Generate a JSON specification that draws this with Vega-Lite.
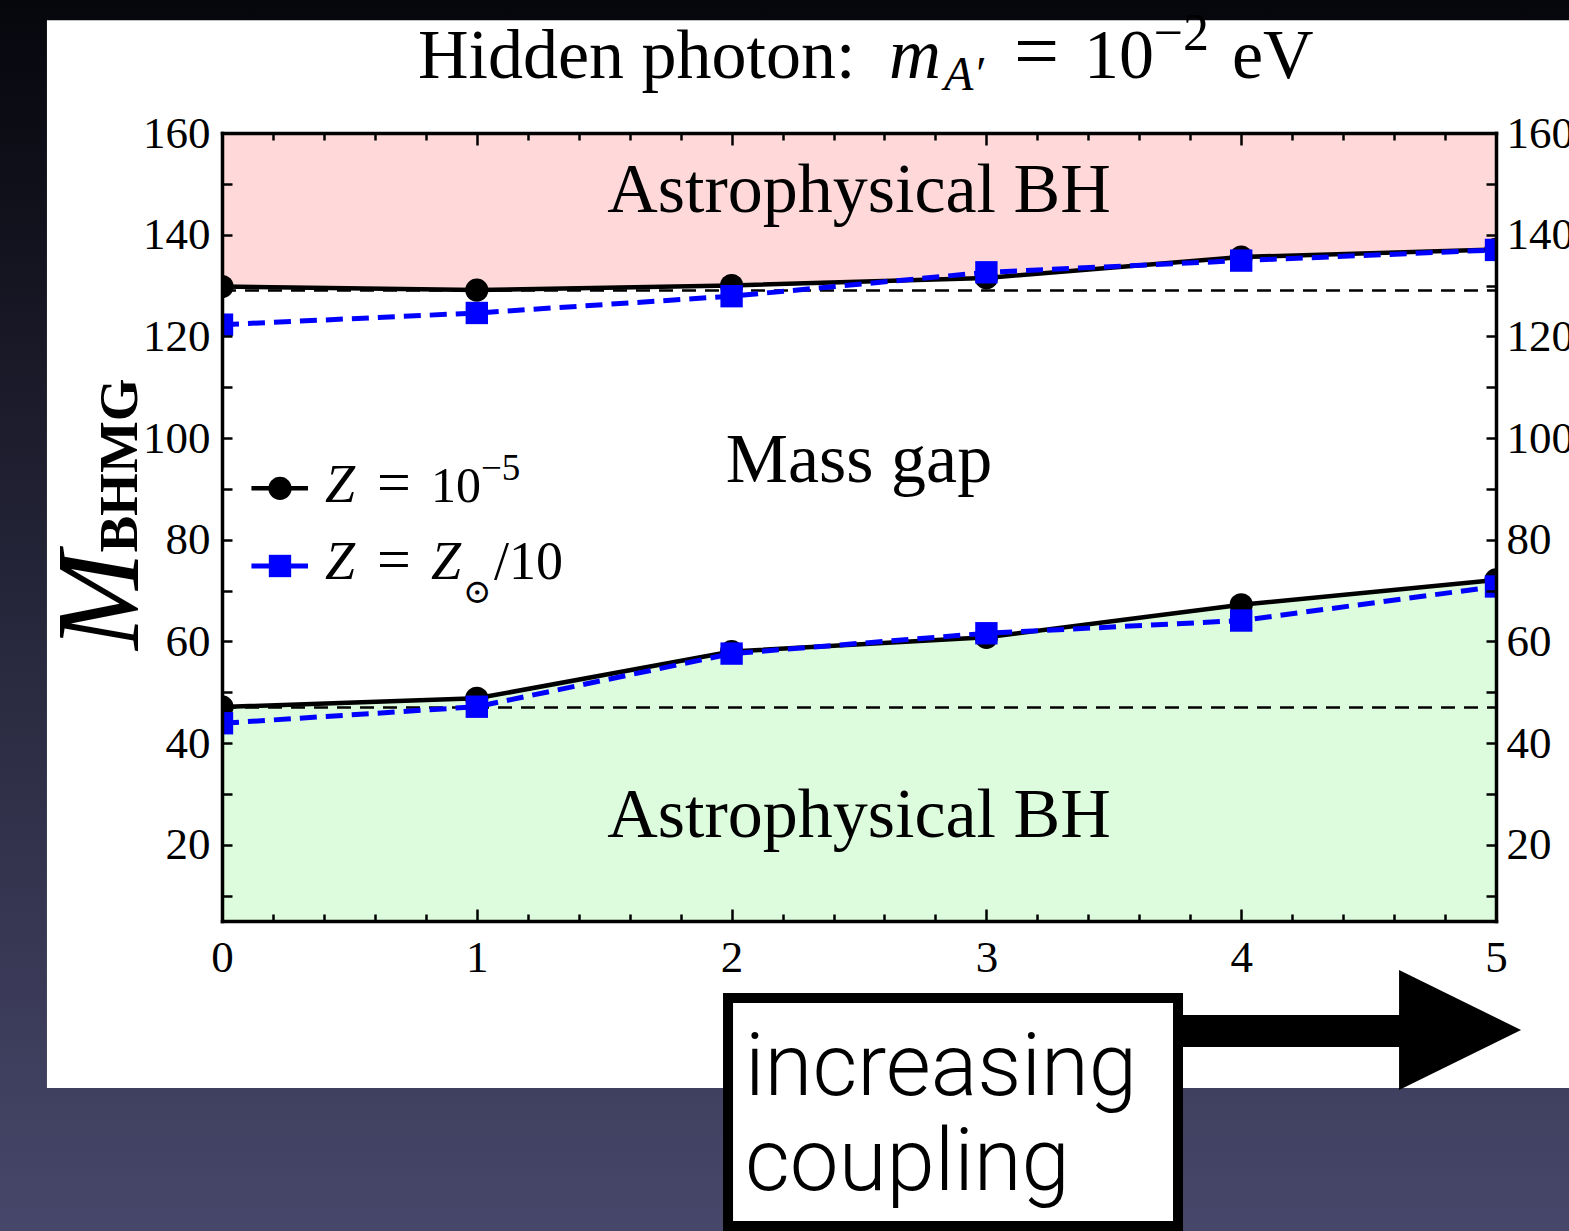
{
  "$schema": "https://vega.github.io/schema/vega-lite/v6.json",
  "width": 1274,
  "height": 788,
  "autosize": {"type": "none"},
  "padding": {"left": 222, "top": 133, "right": 73, "bottom": 310},
  "background": "#1c1c2c",
  "data": {"values": [{}]},
  "datasets": {
    "curves": [
      {"coupling": 0, "mass": 129.8, "series": "Z1e-5", "bound": "upper"},
      {"coupling": 1, "mass": 129.1, "series": "Z1e-5", "bound": "upper"},
      {"coupling": 2, "mass": 130.0, "series": "Z1e-5", "bound": "upper"},
      {"coupling": 3, "mass": 131.5, "series": "Z1e-5", "bound": "upper"},
      {"coupling": 4, "mass": 135.6, "series": "Z1e-5", "bound": "upper"},
      {"coupling": 5, "mass": 137.1, "series": "Z1e-5", "bound": "upper"},
      {"coupling": 0, "mass": 47.1, "series": "Z1e-5", "bound": "lower"},
      {"coupling": 1, "mass": 48.8, "series": "Z1e-5", "bound": "lower"},
      {"coupling": 2, "mass": 58.0, "series": "Z1e-5", "bound": "lower"},
      {"coupling": 3, "mass": 60.8, "series": "Z1e-5", "bound": "lower"},
      {"coupling": 4, "mass": 67.2, "series": "Z1e-5", "bound": "lower"},
      {"coupling": 5, "mass": 72.1, "series": "Z1e-5", "bound": "lower"},
      {"coupling": 0, "mass": 122.3, "series": "Zsun/10", "bound": "upper"},
      {"coupling": 1, "mass": 124.6, "series": "Zsun/10", "bound": "upper"},
      {"coupling": 2, "mass": 127.9, "series": "Zsun/10", "bound": "upper"},
      {"coupling": 3, "mass": 132.6, "series": "Zsun/10", "bound": "upper"},
      {"coupling": 4, "mass": 134.9, "series": "Zsun/10", "bound": "upper"},
      {"coupling": 5, "mass": 137.0, "series": "Zsun/10", "bound": "upper"},
      {"coupling": 0, "mass": 43.9, "series": "Zsun/10", "bound": "lower"},
      {"coupling": 1, "mass": 47.15, "series": "Zsun/10", "bound": "lower"},
      {"coupling": 2, "mass": 57.6, "series": "Zsun/10", "bound": "lower"},
      {"coupling": 3, "mass": 61.6, "series": "Zsun/10", "bound": "lower"},
      {"coupling": 4, "mass": 64.1, "series": "Zsun/10", "bound": "lower"},
      {"coupling": 5, "mass": 70.8, "series": "Zsun/10", "bound": "lower"}
    ],
    "refs": [{"level": 129.0}, {"level": 47.0}]
  },
  "config": {
    "view": {"stroke": null},
    "axis": {
      "grid": false, "domain": false, "tickColor": "black", "tickWidth": 2.5,
      "labelFont": "Liberation Serif", "labelFontSize": 45, "labelColor": "black",
      "labelOverlap": false, "labelFlush": false, "labelBound": false,
      "domainColor": "black", "domainWidth": 3.5, "domainCap": "square"
    }
  },
  "resolve": {"axis": {"x": "independent", "y": "independent"}},
  "layer": [
    {
      "mark": {"type": "rect", "color": {"gradient": "linear", "x1": 0, "y1": 0, "x2": 0, "y2": 1, "stops": [{"offset": 0, "color": "#05050b"}, {"offset": 1, "color": "#48486c"}]}},
      "encoding": {
        "x": {"datum": -1, "type": "quantitative", "scale": {"domain": [0, 5], "nice": false, "zero": false}, "axis": null},
        "x2": {"datum": 5.5},
        "y": {"datum": 190, "type": "quantitative", "scale": {"domain": [5, 160], "nice": false, "zero": false}, "axis": null},
        "y2": {"datum": -60}
      }
    },
    {
      "mark": {"type": "rect", "color": "white"},
      "encoding": {
        "x": {"datum": -0.687, "type": "quantitative", "scale": {"domain": [0, 5], "nice": false, "zero": false}, "axis": null},
        "x2": {"datum": 5.5},
        "y": {"datum": 182.2, "type": "quantitative", "scale": {"domain": [5, 160], "nice": false, "zero": false}, "axis": null},
        "y2": {"datum": -27.85}
      }
    },
    {
      "data": {"name": "curves"},
      "transform": [{"filter": "datum.series === 'Z1e-5' && datum.bound === 'upper'"}],
      "mark": {"type": "area", "color": "#ffd9d9"},
      "encoding": {
        "x": {"field": "coupling", "type": "quantitative", "scale": {"domain": [0, 5], "nice": false, "zero": false}, "title": null,
              "axis": {"orient": "bottom", "zindex": 1, "values": [0, 1, 2, 3, 4, 5], "tickSize": -12, "labelPadding": 26, "domain": true}},
        "y": {"field": "mass", "type": "quantitative", "scale": {"domain": [5, 160], "nice": false, "zero": false}, "title": null,
              "axis": {"orient": "left", "zindex": 1, "values": [10, 20, 30, 40, 50, 60, 70, 80, 90, 100, 110, 120, 130, 140, 150, 160], "labelExpr": "datum.value % 20 === 0 ? datum.label : ''", "tickSize": -10, "labelPadding": 22, "domain": true}},
        "y2": {"datum": 160}
      }
    },
    {
      "data": {"name": "curves"},
      "transform": [{"filter": "datum.series === 'Z1e-5' && datum.bound === 'lower'"}],
      "mark": {"type": "area", "color": "#ddfcdd"},
      "encoding": {
        "x": {"field": "coupling", "type": "quantitative", "scale": {"domain": [0, 5], "nice": false, "zero": false}, "title": null,
              "axis": {"orient": "top", "zindex": 1, "values": [0, 1, 2, 3, 4, 5], "tickSize": -12, "labels": false, "domain": true}},
        "y": {"field": "mass", "type": "quantitative", "scale": {"domain": [5, 160], "nice": false, "zero": false}, "title": null,
              "axis": {"orient": "right", "zindex": 1, "values": [10, 20, 30, 40, 50, 60, 70, 80, 90, 100, 110, 120, 130, 140, 150, 160], "labelExpr": "datum.value % 20 === 0 ? datum.label : ''", "tickSize": -10, "labelPadding": 20, "domain": true}},
        "y2": {"datum": 5}
      }
    },
    {
      "data": {"name": "refs"},
      "mark": {"type": "rule", "color": "black", "strokeWidth": 2.5, "strokeDash": [14, 9]},
      "encoding": {
        "x": {"datum": 0, "type": "quantitative", "scale": {"domain": [0, 5], "nice": false, "zero": false}, "title": null,
              "axis": {"orient": "bottom", "zindex": 1, "values": [0.2, 0.4, 0.6, 0.8, 1.2, 1.4, 1.6, 1.8, 2.2, 2.4, 2.6, 2.8, 3.2, 3.4, 3.6, 3.8, 4.2, 4.4, 4.6, 4.8], "tickSize": -7, "labels": false}},
        "x2": {"datum": 5},
        "y": {"field": "level", "type": "quantitative", "scale": {"domain": [5, 160], "nice": false, "zero": false}, "axis": null}
      }
    },
    {
      "data": {"name": "curves"},
      "transform": [{"filter": "datum.series === 'Z1e-5'"}],
      "mark": {"type": "line", "color": "black", "strokeWidth": 4.5, "clip": true},
      "encoding": {
        "x": {"field": "coupling", "type": "quantitative", "scale": {"domain": [0, 5], "nice": false, "zero": false}, "title": null,
              "axis": {"orient": "top", "zindex": 1, "values": [0.2, 0.4, 0.6, 0.8, 1.2, 1.4, 1.6, 1.8, 2.2, 2.4, 2.6, 2.8, 3.2, 3.4, 3.6, 3.8, 4.2, 4.4, 4.6, 4.8], "tickSize": -7, "labels": false}},
        "y": {"field": "mass", "type": "quantitative", "scale": {"domain": [5, 160], "nice": false, "zero": false}, "axis": null},
        "detail": {"field": "bound"}
      }
    },
    {
      "data": {"name": "curves"},
      "transform": [{"filter": "datum.series === 'Z1e-5'"}],
      "mark": {"type": "point", "shape": "circle", "filled": true, "size": 540, "color": "black", "opacity": 1, "clip": true},
      "encoding": {
        "x": {"field": "coupling", "type": "quantitative", "scale": {"domain": [0, 5], "nice": false, "zero": false}, "axis": null},
        "y": {"field": "mass", "type": "quantitative", "scale": {"domain": [5, 160], "nice": false, "zero": false}, "axis": null}
      }
    },
    {
      "data": {"name": "curves"},
      "transform": [{"filter": "datum.series === 'Zsun/10'"}],
      "mark": {"type": "line", "color": "#0000ff", "strokeWidth": 5, "strokeDash": [17, 9], "clip": true},
      "encoding": {
        "x": {"field": "coupling", "type": "quantitative", "scale": {"domain": [0, 5], "nice": false, "zero": false}, "axis": null},
        "y": {"field": "mass", "type": "quantitative", "scale": {"domain": [5, 160], "nice": false, "zero": false}, "axis": null},
        "detail": {"field": "bound"}
      }
    },
    {
      "data": {"name": "curves"},
      "transform": [{"filter": "datum.series === 'Zsun/10'"}],
      "mark": {"type": "point", "shape": "square", "filled": true, "size": 500, "color": "#0000ff", "opacity": 1, "clip": true},
      "encoding": {
        "x": {"field": "coupling", "type": "quantitative", "scale": {"domain": [0, 5], "nice": false, "zero": false}, "axis": null},
        "y": {"field": "mass", "type": "quantitative", "scale": {"domain": [5, 160], "nice": false, "zero": false}, "axis": null}
      }
    },
    {
      "mark": {"type": "text", "text": "Astrophysical BH", "font": "Liberation Serif", "fontSize": 70, "align": "center", "baseline": "alphabetic", "color": "black"},
      "encoding": {
        "x": {"datum": 2.5, "type": "quantitative", "scale": {"domain": [0, 5], "nice": false, "zero": false}, "axis": null},
        "y": {"datum": 144.52, "type": "quantitative", "scale": {"domain": [5, 160], "nice": false, "zero": false}, "axis": null}
      }
    },
    {
      "mark": {"type": "text", "text": "Astrophysical BH", "font": "Liberation Serif", "fontSize": 70, "align": "center", "baseline": "alphabetic", "color": "black"},
      "encoding": {
        "x": {"datum": 2.5, "type": "quantitative", "scale": {"domain": [0, 5], "nice": false, "zero": false}, "axis": null},
        "y": {"datum": 21.52, "type": "quantitative", "scale": {"domain": [5, 160], "nice": false, "zero": false}, "axis": null}
      }
    },
    {
      "mark": {"type": "text", "text": "Mass gap", "font": "Liberation Serif", "fontSize": 70, "align": "center", "baseline": "alphabetic", "color": "black"},
      "encoding": {
        "x": {"datum": 2.5, "type": "quantitative", "scale": {"domain": [0, 5], "nice": false, "zero": false}, "axis": null},
        "y": {"datum": 91.35, "type": "quantitative", "scale": {"domain": [5, 160], "nice": false, "zero": false}, "axis": null}
      }
    },
    {
      "mark": {"type": "text", "text": "Hidden photon:", "font": "Liberation Serif", "fontSize": 70, "align": "left", "baseline": "alphabetic", "color": "black"},
      "encoding": {
        "x": {"datum": 0.7692, "type": "quantitative", "scale": {"domain": [0, 5], "nice": false, "zero": false}, "axis": null},
        "y": {"datum": 170.82, "type": "quantitative", "scale": {"domain": [5, 160], "nice": false, "zero": false}, "axis": null}
      }
    },
    {
      "mark": {"type": "text", "text": "m", "font": "Liberation Serif", "fontStyle": "italic", "fontSize": 72, "align": "left", "baseline": "alphabetic", "color": "black"},
      "encoding": {
        "x": {"datum": 2.6177, "type": "quantitative", "scale": {"domain": [0, 5], "nice": false, "zero": false}, "axis": null},
        "y": {"datum": 170.82, "type": "quantitative", "scale": {"domain": [5, 160], "nice": false, "zero": false}, "axis": null}
      }
    },
    {
      "mark": {"type": "text", "text": "A′", "font": "Liberation Serif", "fontStyle": "italic", "fontSize": 48, "align": "left", "baseline": "alphabetic", "color": "black"},
      "encoding": {
        "x": {"datum": 2.8336, "type": "quantitative", "scale": {"domain": [0, 5], "nice": false, "zero": false}, "axis": null},
        "y": {"datum": 168.46, "type": "quantitative", "scale": {"domain": [5, 160], "nice": false, "zero": false}, "axis": null}
      }
    },
    {
      "mark": {"type": "text", "text": "=", "font": "Liberation Serif", "fontSize": 80, "align": "left", "baseline": "alphabetic", "color": "black"},
      "encoding": {
        "x": {"datum": 3.1083, "type": "quantitative", "scale": {"domain": [0, 5], "nice": false, "zero": false}, "axis": null},
        "y": {"datum": 170.82, "type": "quantitative", "scale": {"domain": [5, 160], "nice": false, "zero": false}, "axis": null}
      }
    },
    {
      "mark": {"type": "text", "text": "10", "font": "Liberation Serif", "fontSize": 70, "align": "left", "baseline": "alphabetic", "color": "black"},
      "encoding": {
        "x": {"datum": 3.383, "type": "quantitative", "scale": {"domain": [0, 5], "nice": false, "zero": false}, "axis": null},
        "y": {"datum": 170.82, "type": "quantitative", "scale": {"domain": [5, 160], "nice": false, "zero": false}, "axis": null}
      }
    },
    {
      "mark": {"type": "text", "text": "−2", "font": "Liberation Serif", "fontSize": 52, "align": "left", "baseline": "alphabetic", "color": "black"},
      "encoding": {
        "x": {"datum": 3.656, "type": "quantitative", "scale": {"domain": [0, 5], "nice": false, "zero": false}, "axis": null},
        "y": {"datum": 176.33, "type": "quantitative", "scale": {"domain": [5, 160], "nice": false, "zero": false}, "axis": null}
      }
    },
    {
      "mark": {"type": "text", "text": "eV", "font": "Liberation Serif", "fontSize": 70, "align": "left", "baseline": "alphabetic", "color": "black"},
      "encoding": {
        "x": {"datum": 3.9639, "type": "quantitative", "scale": {"domain": [0, 5], "nice": false, "zero": false}, "axis": null},
        "y": {"datum": 170.82, "type": "quantitative", "scale": {"domain": [5, 160], "nice": false, "zero": false}, "axis": null}
      }
    },
    {
      "mark": {"type": "text", "text": "M", "font": "Liberation Serif", "fontStyle": "italic", "fontSize": 118, "angle": 270, "align": "center", "baseline": "alphabetic", "color": "black"},
      "encoding": {
        "x": {"datum": -0.33, "type": "quantitative", "scale": {"domain": [0, 5], "nice": false, "zero": false}, "axis": null},
        "y": {"datum": 68.0, "type": "quantitative", "scale": {"domain": [5, 160], "nice": false, "zero": false}, "axis": null}
      }
    },
    {
      "mark": {"type": "text", "text": "BHMG", "font": "Liberation Serif", "fontWeight": "bold", "fontSize": 55, "angle": 270, "align": "center", "baseline": "alphabetic", "color": "black"},
      "encoding": {
        "x": {"datum": -0.332, "type": "quantitative", "scale": {"domain": [0, 5], "nice": false, "zero": false}, "axis": null},
        "y": {"datum": 94.6, "type": "quantitative", "scale": {"domain": [5, 160], "nice": false, "zero": false}, "axis": null}
      }
    },
    {
      "mark": {"type": "rule", "color": "black", "strokeWidth": 4.5},
      "encoding": {
        "x": {"datum": 0.1155, "type": "quantitative", "scale": {"domain": [0, 5], "nice": false, "zero": false}, "axis": null},
        "x2": {"datum": 0.3375},
        "y": {"datum": 90.1, "type": "quantitative", "scale": {"domain": [5, 160], "nice": false, "zero": false}, "axis": null}
      }
    },
    {
      "mark": {"type": "point", "shape": "circle", "filled": true, "size": 540, "color": "black", "opacity": 1},
      "encoding": {
        "x": {"datum": 0.2276, "type": "quantitative", "scale": {"domain": [0, 5], "nice": false, "zero": false}, "axis": null},
        "y": {"datum": 90.1, "type": "quantitative", "scale": {"domain": [5, 160], "nice": false, "zero": false}, "axis": null}
      }
    },
    {
      "mark": {"type": "rule", "color": "#0000ff", "strokeWidth": 5},
      "encoding": {
        "x": {"datum": 0.1155, "type": "quantitative", "scale": {"domain": [0, 5], "nice": false, "zero": false}, "axis": null},
        "x2": {"datum": 0.3375},
        "y": {"datum": 74.83, "type": "quantitative", "scale": {"domain": [5, 160], "nice": false, "zero": false}, "axis": null}
      }
    },
    {
      "mark": {"type": "point", "shape": "square", "filled": true, "size": 500, "color": "#0000ff", "opacity": 1},
      "encoding": {
        "x": {"datum": 0.2276, "type": "quantitative", "scale": {"domain": [0, 5], "nice": false, "zero": false}, "axis": null},
        "y": {"datum": 74.83, "type": "quantitative", "scale": {"domain": [5, 160], "nice": false, "zero": false}, "axis": null}
      }
    },
    {
      "mark": {"type": "text", "text": "Z", "font": "Liberation Serif", "fontStyle": "italic", "fontSize": 54, "align": "left", "baseline": "alphabetic", "color": "black"},
      "encoding": {
        "x": {"datum": 0.4042, "type": "quantitative", "scale": {"domain": [0, 5], "nice": false, "zero": false}, "axis": null},
        "y": {"datum": 87.48, "type": "quantitative", "scale": {"domain": [5, 160], "nice": false, "zero": false}, "axis": null}
      }
    },
    {
      "mark": {"type": "text", "text": "=", "font": "Liberation Serif", "fontSize": 60, "align": "left", "baseline": "alphabetic", "color": "black"},
      "encoding": {
        "x": {"datum": 0.6083, "type": "quantitative", "scale": {"domain": [0, 5], "nice": false, "zero": false}, "axis": null},
        "y": {"datum": 87.48, "type": "quantitative", "scale": {"domain": [5, 160], "nice": false, "zero": false}, "axis": null}
      }
    },
    {
      "mark": {"type": "text", "text": "10", "font": "Liberation Serif", "fontSize": 50, "align": "left", "baseline": "alphabetic", "color": "black"},
      "encoding": {
        "x": {"datum": 0.8203, "type": "quantitative", "scale": {"domain": [0, 5], "nice": false, "zero": false}, "axis": null},
        "y": {"datum": 87.48, "type": "quantitative", "scale": {"domain": [5, 160], "nice": false, "zero": false}, "axis": null}
      }
    },
    {
      "mark": {"type": "text", "text": "−5", "font": "Liberation Serif", "fontSize": 37, "align": "left", "baseline": "alphabetic", "color": "black"},
      "encoding": {
        "x": {"datum": 1.0165, "type": "quantitative", "scale": {"domain": [0, 5], "nice": false, "zero": false}, "axis": null},
        "y": {"datum": 91.75, "type": "quantitative", "scale": {"domain": [5, 160], "nice": false, "zero": false}, "axis": null}
      }
    },
    {
      "mark": {"type": "text", "text": "Z", "font": "Liberation Serif", "fontStyle": "italic", "fontSize": 54, "align": "left", "baseline": "alphabetic", "color": "black"},
      "encoding": {
        "x": {"datum": 0.4042, "type": "quantitative", "scale": {"domain": [0, 5], "nice": false, "zero": false}, "axis": null},
        "y": {"datum": 72.27, "type": "quantitative", "scale": {"domain": [5, 160], "nice": false, "zero": false}, "axis": null}
      }
    },
    {
      "mark": {"type": "text", "text": "=", "font": "Liberation Serif", "fontSize": 60, "align": "left", "baseline": "alphabetic", "color": "black"},
      "encoding": {
        "x": {"datum": 0.6083, "type": "quantitative", "scale": {"domain": [0, 5], "nice": false, "zero": false}, "axis": null},
        "y": {"datum": 72.27, "type": "quantitative", "scale": {"domain": [5, 160], "nice": false, "zero": false}, "axis": null}
      }
    },
    {
      "mark": {"type": "text", "text": "Z", "font": "Liberation Serif", "fontStyle": "italic", "fontSize": 54, "align": "left", "baseline": "alphabetic", "color": "black"},
      "encoding": {
        "x": {"datum": 0.8203, "type": "quantitative", "scale": {"domain": [0, 5], "nice": false, "zero": false}, "axis": null},
        "y": {"datum": 72.27, "type": "quantitative", "scale": {"domain": [5, 160], "nice": false, "zero": false}, "axis": null}
      }
    },
    {
      "mark": {"type": "text", "text": "⊙", "font": "DejaVu Serif", "fontSize": 34, "align": "left", "baseline": "alphabetic", "color": "black"},
      "encoding": {
        "x": {"datum": 0.9458, "type": "quantitative", "scale": {"domain": [0, 5], "nice": false, "zero": false}, "axis": null},
        "y": {"datum": 67.6, "type": "quantitative", "scale": {"domain": [5, 160], "nice": false, "zero": false}, "axis": null}
      }
    },
    {
      "mark": {"type": "text", "text": "/10", "font": "Liberation Serif", "fontSize": 54, "align": "left", "baseline": "alphabetic", "color": "black"},
      "encoding": {
        "x": {"datum": 1.0675, "type": "quantitative", "scale": {"domain": [0, 5], "nice": false, "zero": false}, "axis": null},
        "y": {"datum": 72.27, "type": "quantitative", "scale": {"domain": [5, 160], "nice": false, "zero": false}, "axis": null}
      }
    },
    {
      "mark": {"type": "rect", "color": "black"},
      "encoding": {
        "x": {"datum": 3.74, "type": "quantitative", "scale": {"domain": [0, 5], "nice": false, "zero": false}, "axis": null},
        "x2": {"datum": 4.63},
        "y": {"datum": -13.49, "type": "quantitative", "scale": {"domain": [5, 160], "nice": false, "zero": false}, "axis": null},
        "y2": {"datum": -19.79}
      }
    },
    {
      "mark": {"type": "point", "shape": "M -1 -0.984 L 1 0 L -1 0.984 Z", "filled": true, "size": 14884, "color": "black", "opacity": 1, "strokeWidth": 0},
      "encoding": {
        "x": {"datum": 4.859, "type": "quantitative", "scale": {"domain": [0, 5], "nice": false, "zero": false}, "axis": null},
        "y": {"datum": -16.44, "type": "quantitative", "scale": {"domain": [5, 160], "nice": false, "zero": false}, "axis": null}
      }
    },
    {
      "mark": {"type": "rect", "fill": "white", "stroke": "black", "strokeWidth": 10},
      "encoding": {
        "x": {"datum": 1.986, "type": "quantitative", "scale": {"domain": [0, 5], "nice": false, "zero": false}, "axis": null},
        "x2": {"datum": 3.752},
        "y": {"datum": -10.15, "type": "quantitative", "scale": {"domain": [5, 160], "nice": false, "zero": false}, "axis": null},
        "y2": {"datum": -55.0}
      }
    },
    {
      "mark": {"type": "text", "text": "increasing", "font": "Roboto", "fontWeight": 300, "fontSize": 87, "align": "left", "baseline": "alphabetic", "color": "black"},
      "encoding": {
        "x": {"datum": 2.0526, "type": "quantitative", "scale": {"domain": [0, 5], "nice": false, "zero": false}, "axis": null},
        "y": {"datum": -29.22, "type": "quantitative", "scale": {"domain": [5, 160], "nice": false, "zero": false}, "axis": null}
      }
    },
    {
      "mark": {"type": "text", "text": "coupling", "font": "Roboto", "fontWeight": 300, "fontSize": 87, "align": "left", "baseline": "alphabetic", "color": "black"},
      "encoding": {
        "x": {"datum": 2.0526, "type": "quantitative", "scale": {"domain": [0, 5], "nice": false, "zero": false}, "axis": null},
        "y": {"datum": -47.91, "type": "quantitative", "scale": {"domain": [5, 160], "nice": false, "zero": false}, "axis": null}
      }
    }
  ]
}
